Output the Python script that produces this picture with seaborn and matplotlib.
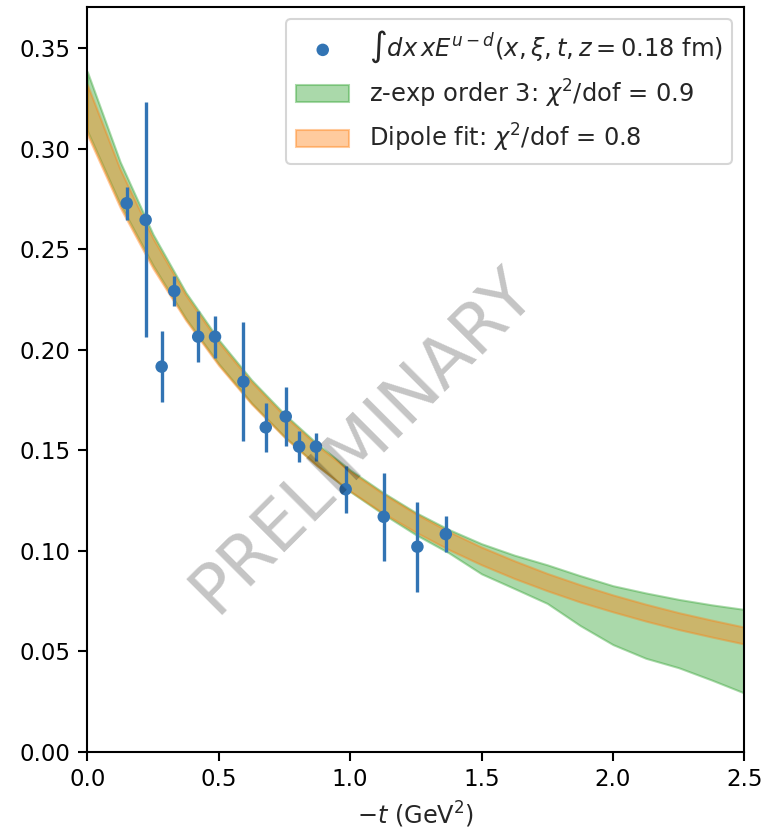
import numpy as np
import pandas as pd
import matplotlib
matplotlib.use("Agg")
import matplotlib.pyplot as plt
import seaborn as sns

# ---- data points ----
t_data = [0.150, 0.222, 0.283, 0.331, 0.422, 0.486, 0.594, 0.679, 0.755,
          0.806, 0.870, 0.983, 1.128, 1.256, 1.364]
y_data = [0.2729, 0.2646, 0.1916, 0.2292, 0.2065, 0.2065, 0.1841, 0.1614, 0.1668,
          0.1518, 0.1518, 0.1306, 0.1169, 0.1020, 0.1083]
y_err = [0.0081, 0.0585, 0.0178, 0.0073, 0.0128, 0.0104, 0.0297, 0.0122, 0.0145,
         0.0078, 0.0069, 0.0118, 0.0218, 0.0224, 0.0090]

# ---- bands ----
t_band = [0.0, 0.125, 0.25, 0.375, 0.5, 0.625, 0.75, 0.875, 1.0, 1.125, 1.25,
          1.375, 1.5, 1.625, 1.75, 1.875, 2.0, 2.125, 2.25, 2.375, 2.5]
dip_hi = [0.3319, 0.2898, 0.2555, 0.2272, 0.2038, 0.1840, 0.1671, 0.1524, 0.1395,
          0.1284, 0.1184, 0.1096, 0.1018, 0.0950, 0.0887, 0.0831, 0.0780, 0.0734,
          0.0692, 0.0655, 0.0620]
dip_lo = [0.3071, 0.2708, 0.2405, 0.2146, 0.1922, 0.1730, 0.1565, 0.1422, 0.1297,
          0.1188, 0.1092, 0.1006, 0.0930, 0.0862, 0.0801, 0.0745, 0.0696, 0.0650,
          0.0608, 0.0571, 0.0536]
zexp_hi = [0.3384, 0.2935, 0.2575, 0.2285, 0.2050, 0.1850, 0.1680, 0.1532, 0.1402,
           0.1290, 0.1190, 0.1106, 0.1035, 0.0978, 0.0930, 0.0876, 0.0826, 0.0790,
           0.0758, 0.0731, 0.0708]
zexp_lo = [0.3090, 0.2725, 0.2420, 0.2155, 0.1930, 0.1735, 0.1568, 0.1423, 0.1295,
           0.1183, 0.1080, 0.0990, 0.0885, 0.0812, 0.0738, 0.0628, 0.0533, 0.0465,
           0.0418, 0.0357, 0.0292]

x_ticks = [0.0, 0.5, 1.0, 1.5, 2.0, 2.5]
y_ticks = [0.00, 0.05, 0.10, 0.15, 0.20, 0.25, 0.30, 0.35]

label_pts = r'$\int dx\, x E^{u-d}(x,\xi,t,z=0.18$ fm)'
label_z = r'z-exp order 3: $\chi^2$/dof = 0.9'
label_d = r'Dipole fit: $\chi^2$/dof = 0.8'

sns.set_style("ticks")
plt.rcParams['font.family'] = ['DejaVu Sans']
plt.rcParams['axes.edgecolor'] = 'black'
plt.rcParams['xtick.color'] = 'black'
plt.rcParams['ytick.color'] = 'black'

fig = plt.figure(figsize=(769 / 150, 836 / 150), dpi=150)
ax = fig.add_axes([0.1135, 0.1008, 0.968 - 0.1135, 0.9913 - 0.1008])

blue = '#3274b4'
green = '#2ca02c'
orange = '#ff7f0e'

ax.fill_between(t_band, zexp_lo, zexp_hi, color=green, alpha=0.4, lw=1, label=label_z, zorder=1)
ax.fill_between(t_band, dip_lo, dip_hi, color=orange, alpha=0.4, lw=1, label=label_d, zorder=2)

df = pd.DataFrame({'t': t_data, 'y': y_data, 'err': y_err})
ax.errorbar(df['t'], df['y'], yerr=df['err'], fmt='none', ecolor=blue, elinewidth=1.6, zorder=3)
sns.scatterplot(data=df, x='t', y='y', ax=ax, color=blue, s=36, edgecolor='none',
                label=label_pts, zorder=4)

ax.text(0.418, 0.418, 'PRELIMINARY', transform=ax.transAxes, rotation=45,
        fontsize=33, color='black', alpha=0.23, ha='center', va='center', zorder=5)

ax.set_xlim(0, 2.5)
ax.set_ylim(0, 0.3704)
ax.set_xticks(x_ticks)
ax.set_yticks(y_ticks)
ax.set_xticklabels([f'{v:.1f}' for v in x_ticks])
ax.set_yticklabels([f'{v:.2f}' for v in y_ticks])
ax.tick_params(labelsize=11, length=4.5, width=1)
for s in ax.spines.values():
    s.set_visible(True)
    s.set_linewidth(1)
ax.set_xlabel(r'$-t$ (GeV$^2$)', fontsize=11.5)
ax.set_ylabel('')

h, l = ax.get_legend_handles_labels()
order = [l.index(label_pts), l.index(label_z), l.index(label_d)]
ax.legend([h[i] for i in order], [l[i] for i in order], loc='upper right',
          fontsize=11.6, handlelength=2.2, frameon=True)

fig.savefig('out.png', dpi=150)
